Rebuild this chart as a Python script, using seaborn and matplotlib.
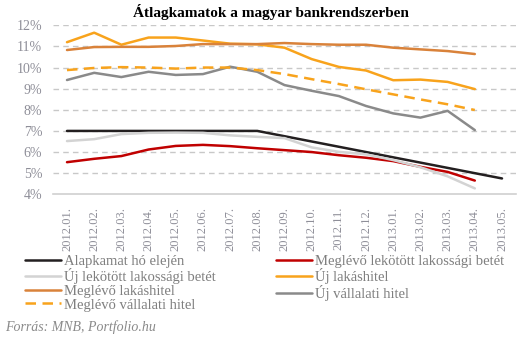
import matplotlib
matplotlib.use("Agg")
import matplotlib.pyplot as plt
import seaborn as sns
import pandas as pd
from matplotlib.lines import Line2D

# Monthly periods
months = ["2012.01.", "2012.02.", "2012.03.", "2012.04.", "2012.05.", "2012.06.",
          "2012.07.", "2012.08.", "2012.09.", "2012.10.", "2012.11.", "2012.12.",
          "2013.01.", "2013.02.", "2013.03.", "2013.04.", "2013.05."]

# Interest rates (%)
alapkamat = [7.0, 7.0, 7.0, 7.0, 7.0, 7.0, 7.0, 7.0, 6.75, 6.5, 6.25, 6.0,
             5.75, 5.5, 5.25, 5.0, 4.75]
meglevo_lekotott_betet = [5.52, 5.68, 5.81, 6.12, 6.29, 6.34, 6.28, 6.18, 6.09, 6.0,
                          5.85, 5.73, 5.57, 5.3, 5.06, 4.65]
uj_lekotott_betet = [6.52, 6.61, 6.85, 6.91, 6.92, 6.91, 6.79, 6.72, 6.66, 6.22,
                     6.01, 5.89, 5.62, 5.28, 4.85, 4.28]
uj_lakashitel = [11.2, 11.65, 11.08, 11.42, 11.42, 11.28, 11.13, 11.1, 10.94, 10.4,
                 10.03, 9.86, 9.4, 9.43, 9.32, 8.98]
meglevo_lakashitel = [10.83, 10.97, 10.98, 10.98, 11.02, 11.11, 11.11, 11.11, 11.16,
                      11.11, 11.08, 11.08, 10.94, 10.86, 10.78, 10.64]
uj_vallalati_hitel = [9.41, 9.75, 9.55, 9.8, 9.65, 9.69, 10.04, 9.8, 9.17, 8.9,
                      8.65, 8.18, 7.83, 7.63, 7.95, 7.04]
meglevo_vallalati_hitel = [9.88, 9.98, 10.02, 10.0, 9.95, 10.0, 10.0, 9.88, 9.69,
                           9.45, 9.22, 8.97, 8.73, 8.49, 8.26, 7.99]

yticks = [4, 5, 6, 7, 8, 9, 10, 11, 12]

series = [
    ("Alapkamat hó elején", alapkamat, "#231F20", "-"),
    ("Meglévő lekötött lakossági betét", meglevo_lekotott_betet, "#C00000", "-"),
    ("Új lekötött lakossági betét", uj_lekotott_betet, "#D3D3D3", "-"),
    ("Új lakáshitel", uj_lakashitel, "#F8A31C", "-"),
    ("Meglévő lakáshitel", meglevo_lakashitel, "#D9823A", "-"),
    ("Új vállalati hitel", uj_vallalati_hitel, "#8A8A8A", "-"),
    ("Meglévő vállalati hitel", meglevo_vallalati_hitel, "#F8A31C", "--"),
]

sns.set_theme(style="white")
plt.rcParams["font.family"] = ["Liberation Serif", "DejaVu Serif"]

fig = plt.figure(figsize=(5.31, 3.42), dpi=100)
ax = fig.add_axes([53.4 / 531, 1 - 194.3 / 342, (515.6 - 53.4) / 531, (194.3 - 25.3) / 342])

# dashed horizontal gridlines
for v in yticks[1:]:
    ax.axhline(v, color="#C8C8C8", lw=1.0, ls=(0, (4, 3)), zorder=0)

handles = {}
for name, vals, color, ls in series:
    df = pd.DataFrame({"x": range(len(vals)), "y": vals})
    sns.lineplot(data=df, x="x", y="y", ax=ax, color=color, lw=1.8, legend=False,
                 zorder=3)
    line = ax.lines[-1]
    if ls == "--":
        line.set_dashes((4.2, 2.6))
        handles[name] = Line2D([], [], color=color, lw=1.8, dashes=(4.2, 2.6))
    else:
        handles[name] = Line2D([], [], color=color, lw=1.8)

ax.set_xlim(-0.5, len(months) - 0.5)
ax.set_ylim(4, 12)
ax.set_xticks(range(len(months)))
ax.set_xticklabels(months, rotation=90, fontsize=9.0, color="#8E8E98")
ax.set_yticks(yticks)
ax.set_yticklabels([f"{v}%" for v in yticks], fontsize=10, color="#8E8E98")
ax.tick_params(axis="both", length=0)
ax.tick_params(axis="x", pad=9)
ax.tick_params(axis="y", pad=8)
ax.set_xlabel("")
ax.set_ylabel("")
for s in ["top", "right", "left"]:
    ax.spines[s].set_visible(False)
ax.spines["bottom"].set_color("#D0D0D0")
ax.spines["bottom"].set_linewidth(1.2)

fig.text(271 / 531, 1 - 12 / 342, "Átlagkamatok a magyar bankrendszerben",
         ha="center", va="center", fontsize=11, fontweight="bold", color="#000000")

col1 = ["Alapkamat hó elején", "Új lekötött lakossági betét", "Meglévő lakáshitel",
        "Meglévő vállalati hitel"]
col2 = ["Meglévő lekötött lakossági betét", "Új lakáshitel", "Új vállalati hitel"]
for names, x0 in [(col1, 25), (col2, 276)]:
    fig.legend([handles[n] for n in names], names, loc="upper left",
               bbox_to_anchor=(x0 / 531, 1 - 255 / 342), frameon=False,
               fontsize=10.5, labelcolor="#7F7F7F", handlelength=2.5,
               handletextpad=0.15, borderpad=0, borderaxespad=0,
               labelspacing=0.02)

fig.text(5 / 531, 1 - 327 / 342, "Forrás: MNB, Portfolio.hu", ha="left", va="center",
         fontsize=10, fontstyle="italic", color="#8A8A8A")

fig.savefig("out.png", dpi=100)
